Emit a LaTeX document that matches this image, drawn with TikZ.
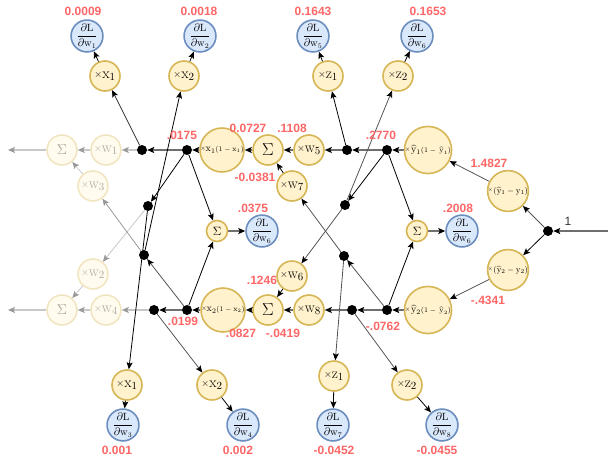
\documentclass[tikz,border=0pt]{standalone}
\usepackage{fontspec}
\usepackage{graphicx}
\usetikzlibrary{arrows.meta}
\newfontfamily\lsans{Liberation Sans}
\definecolor{yfill}{HTML}{FFF2CC}
\definecolor{ydraw}{HTML}{D6B656}
\definecolor{bfill}{HTML}{DAE8FC}
\definecolor{bdraw}{HTML}{6C8EBF}
\definecolor{labred}{HTML}{FF6666}
\definecolor{hgray}{HTML}{6E6E6E}
\definecolor{dgray}{HTML}{555555}
\definecolor{lgray}{HTML}{C8C8C8}
\definecolor{fgray}{HTML}{999999}
\newcommand\mx{\raisebox{1.5pt}{\scalebox{0.7}{$\times$}}}
\newcommand\yh{\mathrm{\hat{y}}}
\newcommand\dl[1]{$\displaystyle\frac{\partial\mathrm{L}}{\partial\mathrm{w}_{#1}}$}
\newcommand\hid[2]{\mx$\mathrm{#1}_{#2}${\fontsize{7.5}{9}\selectfont$(1-\mathrm{#1}_{#2})$}}
\newcommand\hidh[1]{\mx\kern0.8pt$\yh_{#1}${\fontsize{7.5}{9}\selectfont$(1-\,{\yh\kern0.6pt}_{#1})$}}
\tikzset{
 yn/.style={circle, draw=ydraw, fill=yfill, line width=1.6pt, minimum size=30pt, inner sep=0pt, font=\fontsize{15}{17}\selectfont},
 yb/.style={yn, minimum size=40pt, font=\fontsize{10}{12}\selectfont},
 ye/.style={yn, minimum size=40pt, font=\fontsize{8.5}{10}\selectfont},
 ys/.style={yn, minimum size=21pt, font=\fontsize{12}{14}\selectfont},
 bn/.style={circle, draw=bdraw, fill=bfill, line width=1.6pt, minimum size=30pt, inner sep=0pt, font=\fontsize{10.5}{12}\selectfont},
 dotn/.style={circle, fill=black, minimum size=10pt, inner sep=0pt},
 faded/.style={opacity=0.33},
 lab/.style={text=labred, font=\lsans\bfseries\fontsize{12}{14}\selectfont, inner sep=0pt},
 tip/.style={-{Stealth[color=#1,length=7pt,width=6pt,inset=1.5pt]}},
 hl/.style={draw=hgray, line width=1.8pt, tip=black},
 bl/.style={draw=black, line width=0.8pt, tip=black},
 gl/.style={draw=dgray, line width=0.8pt, tip=black},
 fl/.style={draw=lgray, line width=1.5pt, tip=fgray},
 flt/.style={draw=lgray, line width=0.8pt, tip=fgray},
 flm/.style={draw=fgray, line width=0.8pt, tip=fgray},
}
\begin{document}
\begin{tikzpicture}[x=1pt,y=-1pt]
\useasboundingbox (0,0) rectangle (616,461);
% faded layer
\node[yn,faded] (fS1) at (62,150) {$\Sigma$};
\node[yn,faded] (fw1) at (106,150) {\mx$\mathrm{w}_1$};
\node[yn,faded] (fw3) at (93,186) {\mx$\mathrm{w}_3$};
\node[yn,faded] (fw2) at (93,274) {\mx$\mathrm{w}_2$};
\node[yn,faded] (fS2) at (62,310) {$\Sigma$};
\node[yn,faded] (fw4) at (106,310) {\mx$\mathrm{w}_4$};
\coordinate (fe1) at (8,150);
\coordinate (fe2) at (8,310);
% dots
\node[dotn] (d0) at (548,231) {};
\node[dotn] (d1) at (142,150) {};
\node[dotn] (d2) at (187,150) {};
\node[dotn] (d3) at (347,150) {};
\node[dotn] (d4) at (387,150) {};
\node[dotn] (d5) at (154,310) {};
\node[dotn] (d6) at (187,310) {};
\node[dotn] (d7) at (352,310) {};
\node[dotn] (d8) at (387,310) {};
\node[dotn] (dL1) at (148,206) {};
\node[dotn] (dL2) at (144,255) {};
\node[dotn] (dR1) at (345,205) {};
\node[dotn] (dR2) at (344,256) {};
\coordinate (st) at (608,231);
% main nodes
\node[ye] (e1) at (508,191) {\mx\kern0.8pt$(\yh_1-\mathrm{y}_1)$};
\node[ye] (e2) at (508,270) {\mx\kern0.8pt$(\yh_2-\mathrm{y}_2)$};
\node[yb] (o1) at (428,150) {\hidh{1}};
\node[yb] (o2) at (428,310) {\hidh{2}};
\node[yb] (h1) at (222,150) {\hid{x}{1}};
\node[yb] (h2) at (223,310) {\hid{x}{2}};
\node[yn,font=\fontsize{16}{18}\selectfont] (S1) at (268,150) {$\Sigma$};
\node[yn,font=\fontsize{16}{18}\selectfont] (S2) at (268,310) {$\Sigma$};
\node[yn] (w5) at (309,150) {\mx$\mathrm{w}_5$};
\node[yn] (w8) at (309,310) {\mx$\mathrm{w}_8$};
\node[yn] (w7) at (292,186) {\mx$\mathrm{w}_7$};
\node[yn] (w6) at (292,276) {\mx$\mathrm{w}_6$};
\node[ys] (SL) at (217,231) {$\Sigma$};
\node[ys] (SR) at (417,231) {$\Sigma$};
\node[bn] (gL) at (262,231) {\dl{6}};
\node[bn] (gR) at (462,231) {\dl{6}};
% top
\node[yn] (tx1) at (105,76) {\mx$\mathrm{x}_1$};
\node[yn] (tx2) at (184,76) {\mx$\mathrm{x}_2$};
\node[yn] (tz1) at (328,76) {\mx$\mathrm{z}_1$};
\node[yn] (tz2) at (398,76) {\mx$\mathrm{z}_2$};
\node[bn] (gw1) at (87,36) {\dl{1}};
\node[bn] (gw2) at (200,36) {\dl{2}};
\node[bn] (gw5) at (313,36) {\dl{5}};
\node[bn] (gw6) at (417,36) {\dl{6}};
% bottom
\node[yn] (bx1) at (127,385) {\mx$\mathrm{x}_1$};
\node[yn] (bx2) at (212,385) {\mx$\mathrm{x}_2$};
\node[yn] (bz1) at (334,376) {\mx$\mathrm{z}_1$};
\node[yn] (bz2) at (407,385) {\mx$\mathrm{z}_2$};
\node[bn] (gw3) at (123,425) {\dl{3}};
\node[bn] (gw4) at (243,425) {\dl{4}};
\node[bn] (gw7) at (333,425) {\dl{7}};
\node[bn] (gw8) at (442,425) {\dl{8}};
% thick horizontal
\draw[hl] (st) -- (d0);
\draw[hl] (o1) -- (d4); \draw[hl] (d4) -- (d3); \draw[hl] (d3) -- (w5);
\draw[hl] (w5) -- (S1); \draw[hl] (S1) -- (h1); \draw[hl] (h1) -- (d2); \draw[hl] (d2) -- (d1);
\draw[hl] (o2) -- (d8); \draw[hl] (d8) -- (d7); \draw[hl] (d7) -- (w8);
\draw[hl] (w8) -- (S2); \draw[hl] (S2) -- (h2); \draw[hl] (h2) -- (d6); \draw[hl] (d6) -- (d5);
\draw[hl] (SL) -- (gL); \draw[hl] (SR) -- (gR);
% faded
\draw[fl] (d1) -- (fw1); \draw[fl] (fw1) -- (fS1); \draw[fl] (fS1) -- (fe1);
\draw[fl] (d5) -- (fw4); \draw[fl] (fw4) -- (fS2); \draw[fl] (fS2) -- (fe2);
\draw[flt] (dL1) -- (fw2); \draw[flm] (dL2) -- (fw3);
\draw[flt] (fw3) -- (fS1); \draw[flt] (fw2) -- (fS2);
% black thin
\draw[bl] (d0) -- (e2);
\draw[bl] (d2) -- (dL1); \draw[bl] (d2) -- (SL); \draw[bl] (d6) -- (SL);
\draw[bl] (dL2) -- (tx2); \draw[bl] (dL1) -- (bx1);
\draw[gl,draw=black!80] (d1) -- (tx1);
\draw[bl] (d4) -- (dR1); \draw[bl] (d4) -- (SR); \draw[bl] (d8) -- (SR);
\draw[bl] (d3) -- (tz1);
\draw[bl] (tx1) -- (gw1); \draw[bl] (tx2) -- (gw2); \draw[bl] (tz1) -- (gw5); \draw[bl] (tz2) -- (gw6);
\draw[bl] (bx1) -- (gw3); \draw[bl] (bx2) -- (gw4); \draw[bl] (bz1) -- (gw7); \draw[bl] (bz2) -- (gw8);
\draw[bl] (w7) -- (S1); \draw[bl] (w6) -- (S2);
% gray thin
\draw[gl] (d0) -- (e1); \draw[gl] (e1) -- (o1); \draw[gl] (e2) -- (o2);
\draw[gl] (d6) -- (dL2); \draw[gl] (d5) -- (bx2);
\draw[gl] (dR1) -- (tz2); \draw[gl] (dR1) -- (w6); \draw[gl] (dR2) -- (w7);
\draw[gl] (dR2) -- (bz1); \draw[gl] (d8) -- (dR2); \draw[gl] (d7) -- (bz2);
% labels
\node[lab] (l1) at (83,11) {0.0009};
\node[lab] (l2) at (199,11) {0.0018};
\node[lab] (l3) at (313,11) {0.1643};
\node[lab] (l4) at (428,11) {0.1653};
\node[lab] (l5) at (182,135) {.0175};
\node[lab] (l6) at (248,128) {0.0727};
\node[lab] (l7) at (292,128) {.1108};
\node[lab] (l8) at (381,135) {.2770};
\node[lab] (l9) at (255,177) {-0.0381};
\node[lab] (l10) at (253,208) {.0375};
\node[lab] (l11) at (458,208) {.2008};
\node[lab] (l12) at (489,163) {1.4827};
\node[lab] (l13) at (262,280) {.1246};
\node[lab] (l14) at (488,300) {-.4341};
\node[lab] (l15) at (183,321) {.0199};
\node[lab] (l16) at (241,333) {.0827};
\node[lab] (l17) at (283,333) {-.0419};
\node[lab] (l18) at (383,326) {-.0762};
\node[lab] (l19) at (117,450) {0.001};
\node[lab] (l20) at (238,450) {0.002};
\node[lab] (l21) at (334,450) {-0.0452};
\node[lab] (l22) at (437,450) {-0.0455};
\node[font=\lsans\fontsize{12}{14}\selectfont, text=black!80, inner sep=0pt] (one) at (568,221) {1};
\end{tikzpicture}
\end{document}
